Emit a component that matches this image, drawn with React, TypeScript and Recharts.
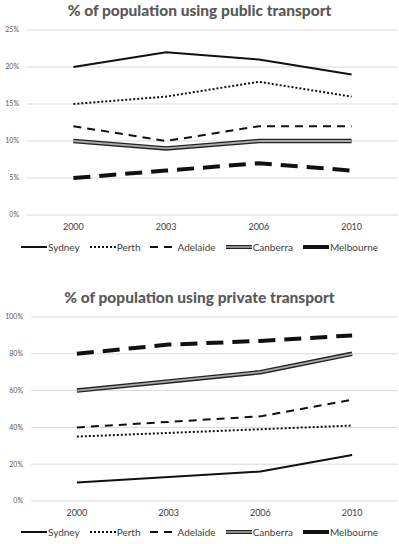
import React from 'react';
import { CartesianGrid, Line, LineChart, XAxis, YAxis } from 'recharts';

const years = ['2000', '2003', '2006', '2010'];
const cities = ['Sydney', 'Perth', 'Adelaide', 'Canberra', 'Melbourne'];

// public transport, %
const publicSydney = [20, 22, 21, 19];
const publicPerth = [15, 16, 18, 16];
const publicAdelaide = [12, 10, 12, 12];
const publicCanberra = [10, 9, 10, 10];
const publicMelbourne = [5, 6, 7, 6];
const publicTicks = [0, 5, 10, 15, 20, 25];

// private transport, %
const privateSydney = [10, 13, 16, 25];
const privatePerth = [35, 37, 39, 41];
const privateAdelaide = [40, 43, 46, 55];
const privateCanberra = [60, 65, 70, 80];
const privateMelbourne = [80, 85, 87, 90];
const privateTicks = [0, 20, 40, 60, 80, 100];

const publicRows = years.map((year, i) => ({
  year,
  Sydney: publicSydney[i],
  Perth: publicPerth[i],
  Adelaide: publicAdelaide[i],
  Canberra: publicCanberra[i],
  Melbourne: publicMelbourne[i],
}));

const privateRows = years.map((year, i) => ({
  year,
  Sydney: privateSydney[i],
  Perth: privatePerth[i],
  Adelaide: privateAdelaide[i],
  Canberra: privateCanberra[i],
  Melbourne: privateMelbourne[i],
}));

const styles: Record<string, { width: number; dash?: string }> = {
  Sydney: { width: 2 },
  Perth: { width: 2, dash: '2 2' },
  Adelaide: { width: 2, dash: '8 6' },
  Canberra: { width: 4.5 },
  Melbourne: { width: 4, dash: '17 9' },
};

function LegendIcon({ name }: { name: string }) {
  const s = styles[name];
  if (name === 'Canberra') {
    return (
      <svg width={26} height={8}>
        <line x1={0} y1={4} x2={26} y2={4} stroke="#222" strokeWidth={4} />
        <line x1={0} y1={4} x2={26} y2={4} stroke="#aaa" strokeWidth={1.6} />
      </svg>
    );
  }
  return (
    <svg width={26} height={8}>
      <line x1={0} y1={4} x2={26} y2={4} stroke="#111" strokeWidth={name === 'Melbourne' ? 4 : 2} strokeDasharray={name === 'Melbourne' ? undefined : s.dash} />
    </svg>
  );
}

type BlockProps = {
  title: string;
  data: any[];
  ticks: number[];
  yWidth: number;
  titleTop: number;
  plotTop: number;
  chartHeight: number;
  legendTop: number;
};

function ChartBlock({ title, data, ticks, yWidth, titleTop, plotTop, chartHeight, legendTop }: BlockProps) {
  const pad = (398 - yWidth) / 8;
  return (
    <div style={{ position: 'relative', width: 399, height: 272 }}>
      <div
        style={{
          position: 'absolute',
          top: titleTop,
          left: 0,
          width: 399,
          textAlign: 'center',
          fontSize: 15.5,
          fontWeight: 900,
          color: '#595959',
          lineHeight: '18px',
        }}
      >
        {title}
      </div>
      <div style={{ position: 'absolute', top: 0, left: 0 }}>
        <LineChart width={399} height={chartHeight} data={data} margin={{ top: plotTop, right: 1, left: 0, bottom: 0 }}>
          <CartesianGrid vertical={false} stroke="#d9d9d9" />
          <XAxis
            dataKey="year"
            axisLine={false}
            tickLine={false}
            height={30}
            tickMargin={3}
            padding={{ left: pad, right: pad }}
            tick={{ fontSize: 9, fill: '#404040' }}
          />
          <YAxis
            width={yWidth}
            domain={[ticks[0], ticks[ticks.length - 1]]}
            ticks={ticks}
            axisLine={false}
            tickLine={false}
            tickMargin={2}
            tickFormatter={(v) => `${v}%`}
            tick={{ fontSize: 7, fill: '#595959' }}
          />
          {cities.map((name) =>
            name === 'Canberra' ? (
              <React.Fragment key={name}>
                <Line dataKey={name} stroke="#222" strokeWidth={4.5} dot={false} isAnimationActive={false} />
                <Line dataKey={name} stroke="#aaa" strokeWidth={1.8} dot={false} isAnimationActive={false} legendType="none" />
              </React.Fragment>
            ) : (
              <Line
                key={name}
                dataKey={name}
                stroke="#111"
                strokeWidth={styles[name].width}
                strokeDasharray={styles[name].dash}
                dot={false}
                isAnimationActive={false}
              />
            )
          )}
        </LineChart>
      </div>
      <div
        style={{
          position: 'absolute',
          top: legendTop,
          left: 0,
          width: 399,
          display: 'flex',
          justifyContent: 'center',
          gap: 10,
          fontSize: 10,
          color: '#404040',
          lineHeight: '12px',
        }}
      >
        {cities.map((name) => (
          <div key={name} style={{ display: 'flex', alignItems: 'center', gap: 1 }}>
            <LegendIcon name={name} />
            <span>{name}</span>
          </div>
        ))}
      </div>
    </div>
  );
}

export default function App() {
  return (
    <div
      style={{
        position: 'absolute',
        left: 0,
        top: 0,
        width: 399,
        height: 544,
        background: '#fff',
        fontFamily: 'Lato, "Noto Sans", sans-serif',
      }}
    >
      <ChartBlock
        title="% of population using public transport"
        data={publicRows}
        ticks={publicTicks}
        yWidth={27}
        titleTop={1}
        plotTop={30}
        chartHeight={245}
        legendTop={241}
      />
      <ChartBlock
        title="% of population using private transport"
        data={privateRows}
        ticks={privateTicks}
        yWidth={31}
        titleTop={16}
        plotTop={45}
        chartHeight={259}
        legendTop={254}
      />
    </div>
  );
}
